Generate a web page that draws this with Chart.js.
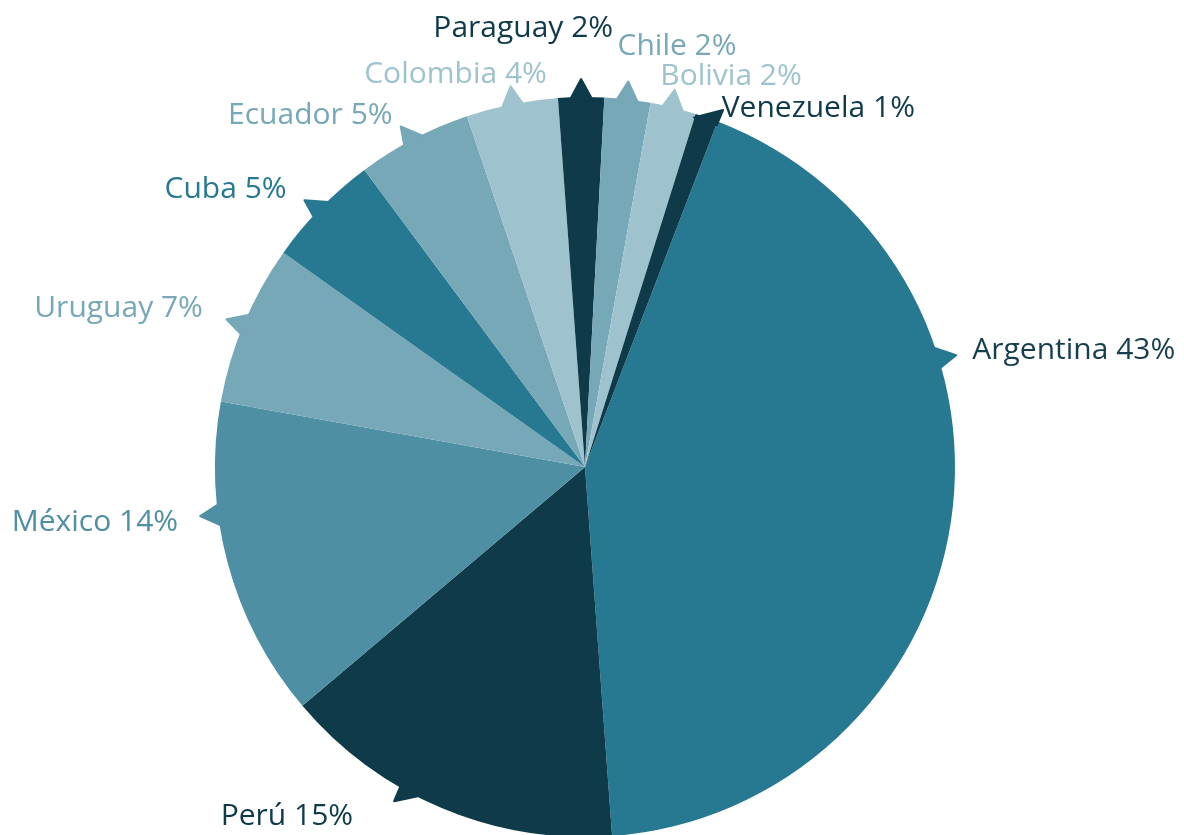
<!DOCTYPE html>
<html>
<head>
<meta charset="utf-8">
<script src="https://cdn.jsdelivr.net/npm/chart.js@4/dist/chart.umd.min.js"></script>
<style>
  html, body { margin: 0; padding: 0; background: #fff; overflow: hidden; }
  #wrap { width: 1184px; height: 840px; position: relative; }
</style>
</head>
<body>
<div id="wrap"><canvas id="pie"></canvas></div>
<script>
const countries = ['Argentina', 'Perú', 'México', 'Uruguay', 'Cuba', 'Ecuador', 'Colombia', 'Paraguay', 'Chile', 'Bolivia', 'Venezuela'];
const shares = [43, 15, 14, 7, 5, 5, 4, 2, 2, 2, 1];

const dark = '#0e3a4a', teal = '#277891', mid = '#4f8fa4', light = '#76a8b8', pale = '#9ec3ce';
const sliceColors = [teal, dark, mid, light, teal, light, pale, dark, light, pale, dark];
const labelColors = ['#163f4e', dark, mid, light, teal, light, pale, dark, light, pale, dark];

// label placement, relative to where the pointer sits on the rim
const pointerShift = [-25.7, 5.4, 7.5, 0, 0, 0, 0, 0, 0, 0, 0];
const labelOffsets = [[34, 2], [-57, 32], [-40, 16], [-41, -7], [-34, -10], [-21, -15], [35, -21], [32, -60], [-10, -44], [-13, -23], [15, -1]];
const labelAlign = ['left', 'right', 'right', 'right', 'right', 'right', 'right', 'right', 'left', 'left', 'left'];

const FONT_SIZE = 30;

const calloutLabels = {
  id: 'calloutLabels',
  afterDatasetsDraw(chart) {
    const ctx = chart.ctx;
    const meta = chart.getDatasetMeta(0);
    ctx.save();
    ctx.font = FONT_SIZE + 'px "Open Sans"';
    ctx.textBaseline = 'alphabetic';
    meta.data.forEach((arc, i) => {
      const p = arc.getProps(['x', 'y', 'startAngle', 'endAngle', 'outerRadius'], true);
      const a = (p.startAngle + p.endAngle) / 2 + pointerShift[i] * Math.PI / 180;
      const r = p.outerRadius;
      const ux = Math.cos(a), uy = Math.sin(a);
      const bx = p.x + ux * r, by = p.y + uy * r;

      const text = countries[i] + ' ' + shares[i] + '%';
      const w = ctx.measureText(text).width;
      const tx = bx + labelOffsets[i][0], ty = by + labelOffsets[i][1];
      const left = labelAlign[i] === 'left' ? tx : tx - w;
      const right = left + w;
      const top = ty - FONT_SIZE * 0.72, bottom = ty;

      // pointer aims between the radial direction and the label box
      const nx = Math.min(Math.max(bx, left), right) - bx;
      const ny = Math.min(Math.max(by, top), bottom) - by;
      const nl = Math.hypot(nx, ny) || 1;
      let dx = 2 * nx / nl + ux, dy = 2 * ny / nl + uy;
      const dl = Math.hypot(dx, dy) || 1;
      dx /= dl; dy /= dl;
      const tipX = bx + dx * 18, tipY = by + dy * 18;
      const half = 12;
      const inset = 4;
      const cx = bx - ux * inset, cy = by - uy * inset;

      ctx.fillStyle = sliceColors[i];
      ctx.strokeStyle = sliceColors[i];
      ctx.lineWidth = 2;
      ctx.lineJoin = 'round';
      ctx.beginPath();
      ctx.moveTo(cx - uy * half, cy + ux * half);
      ctx.lineTo(tipX, tipY);
      ctx.lineTo(cx + uy * half, cy - ux * half);
      ctx.closePath();
      ctx.fill();
      ctx.stroke();

      ctx.fillStyle = labelColors[i];
      ctx.textAlign = labelAlign[i];
      ctx.fillText(text, tx, ty);
    });
    ctx.restore();
  }
};

new Chart(document.getElementById('pie'), {
  type: 'pie',
  data: {
    labels: countries,
    datasets: [{
      data: shares,
      backgroundColor: sliceColors,
      borderWidth: 0,
      hoverOffset: 0
    }]
  },
  options: {
    responsive: true,
    maintainAspectRatio: false,
    animation: false,
    rotation: 21,
    layout: { padding: { top: 97, bottom: 3, left: 215, right: 229 } },
    plugins: {
      legend: { display: false },
      tooltip: { enabled: false }
    }
  },
  plugins: [calloutLabels]
});
</script>
</body>
</html>
